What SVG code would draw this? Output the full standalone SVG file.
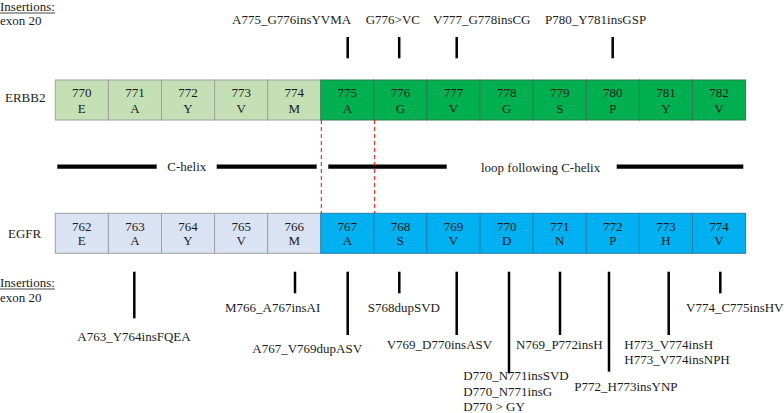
<svg xmlns="http://www.w3.org/2000/svg" width="784" height="413" viewBox="0 0 784 413">
<style>
text{font-family:"Liberation Serif","Times New Roman",serif;font-size:13px;fill:#1a1a1a}
.c{text-anchor:middle}
.lg{fill:#c5e0b4;stroke:#a0a0a0;stroke-width:1}
.dg{fill:#00b050;stroke:#2f7f4a;stroke-width:1}
.lb{fill:#dae3f3;stroke:#a0a0a0;stroke-width:1}
.db{fill:#00b0f0;stroke:#2a7fa8;stroke-width:1}
.tick{stroke:#000;stroke-width:2.5}
.helix{stroke:#000;stroke-width:4.3}
.red{stroke:#ff0000;stroke-width:1;stroke-dasharray:4,3}
</style>
<rect width="784" height="413" fill="#fff"/>

<g id="headers">
<text x="0" y="11">Insertions:</text>
<line x1="0" y1="13" x2="55" y2="13" stroke="#1a1a1a" stroke-width="0.8"/>
<text x="0" y="25">exon 20</text>
<text x="5" y="102">ERBB2</text>
<text x="8" y="238">EGFR</text>
<text x="0" y="286.5">Insertions:</text>
<line x1="0" y1="289" x2="55" y2="289" stroke="#1a1a1a" stroke-width="0.8"/>
<text x="0" y="302">exon 20</text>
</g>

<g id="erbb2">
<g id="e770"><rect class="lg" x="55.3" y="80" width="53.1" height="40"/><text class="c" x="81.85" y="97">770</text><text class="c" x="81.85" y="112.5">E</text></g>
<g id="e771"><rect class="lg" x="108.4" y="80" width="53.1" height="40"/><text class="c" x="134.95" y="97">771</text><text class="c" x="134.95" y="112.5">A</text></g>
<g id="e772"><rect class="lg" x="161.5" y="80" width="53.1" height="40"/><text class="c" x="188.05" y="97">772</text><text class="c" x="188.05" y="112.5">Y</text></g>
<g id="e773"><rect class="lg" x="214.6" y="80" width="53.1" height="40"/><text class="c" x="241.15" y="97">773</text><text class="c" x="241.15" y="112.5">V</text></g>
<g id="e774"><rect class="lg" x="267.7" y="80" width="53.1" height="40"/><text class="c" x="294.25" y="97">774</text><text class="c" x="294.25" y="112.5">M</text></g>
<g id="e775"><rect class="dg" x="320.8" y="80" width="53.1" height="40"/><text class="c" x="347.35" y="97">775</text><text class="c" x="347.35" y="112.5">A</text></g>
<g id="e776"><rect class="dg" x="373.9" y="80" width="53.1" height="40"/><text class="c" x="400.45" y="97">776</text><text class="c" x="400.45" y="112.5">G</text></g>
<g id="e777"><rect class="dg" x="427" y="80" width="53.1" height="40"/><text class="c" x="453.55" y="97">777</text><text class="c" x="453.55" y="112.5">V</text></g>
<g id="e778"><rect class="dg" x="480.1" y="80" width="53.1" height="40"/><text class="c" x="506.65" y="97">778</text><text class="c" x="506.65" y="112.5">G</text></g>
<g id="e779"><rect class="dg" x="533.2" y="80" width="53.1" height="40"/><text class="c" x="559.75" y="97">779</text><text class="c" x="559.75" y="112.5">S</text></g>
<g id="e780"><rect class="dg" x="586.3" y="80" width="53.1" height="40"/><text class="c" x="612.85" y="97">780</text><text class="c" x="612.85" y="112.5">P</text></g>
<g id="e781"><rect class="dg" x="639.4" y="80" width="53.1" height="40"/><text class="c" x="665.95" y="97">781</text><text class="c" x="665.95" y="112.5">Y</text></g>
<g id="e782"><rect class="dg" x="692.5" y="80" width="53.1" height="40"/><text class="c" x="719.05" y="97">782</text><text class="c" x="719.05" y="112.5">V</text></g>
</g>

<g id="egfr">
<g id="g762"><rect class="lb" x="55.3" y="213.3" width="53.1" height="40"/><text class="c" x="81.85" y="230.5">762</text><text class="c" x="81.85" y="245">E</text></g>
<g id="g763"><rect class="lb" x="108.4" y="213.3" width="53.1" height="40"/><text class="c" x="134.95" y="230.5">763</text><text class="c" x="134.95" y="245">A</text></g>
<g id="g764"><rect class="lb" x="161.5" y="213.3" width="53.1" height="40"/><text class="c" x="188.05" y="230.5">764</text><text class="c" x="188.05" y="245">Y</text></g>
<g id="g765"><rect class="lb" x="214.6" y="213.3" width="53.1" height="40"/><text class="c" x="241.15" y="230.5">765</text><text class="c" x="241.15" y="245">V</text></g>
<g id="g766"><rect class="lb" x="267.7" y="213.3" width="53.1" height="40"/><text class="c" x="294.25" y="230.5">766</text><text class="c" x="294.25" y="245">M</text></g>
<g id="g767"><rect class="db" x="320.8" y="213.3" width="53.1" height="40"/><text class="c" x="347.35" y="230.5">767</text><text class="c" x="347.35" y="245">A</text></g>
<g id="g768"><rect class="db" x="373.9" y="213.3" width="53.1" height="40"/><text class="c" x="400.45" y="230.5">768</text><text class="c" x="400.45" y="245">S</text></g>
<g id="g769"><rect class="db" x="427" y="213.3" width="53.1" height="40"/><text class="c" x="453.55" y="230.5">769</text><text class="c" x="453.55" y="245">V</text></g>
<g id="g770"><rect class="db" x="480.1" y="213.3" width="53.1" height="40"/><text class="c" x="506.65" y="230.5">770</text><text class="c" x="506.65" y="245">D</text></g>
<g id="g771"><rect class="db" x="533.2" y="213.3" width="53.1" height="40"/><text class="c" x="559.75" y="230.5">771</text><text class="c" x="559.75" y="245">N</text></g>
<g id="g772"><rect class="db" x="586.3" y="213.3" width="53.1" height="40"/><text class="c" x="612.85" y="230.5">772</text><text class="c" x="612.85" y="245">P</text></g>
<g id="g773"><rect class="db" x="639.4" y="213.3" width="53.1" height="40"/><text class="c" x="665.95" y="230.5">773</text><text class="c" x="665.95" y="245">H</text></g>
<g id="g774"><rect class="db" x="692.5" y="213.3" width="53.1" height="40"/><text class="c" x="719.05" y="230.5">774</text><text class="c" x="719.05" y="245">V</text></g>
</g>

<g id="helix">
<line class="helix" x1="57.3" y1="166.7" x2="156.7" y2="166.7"/>
<text x="167.3" y="171">C-helix</text>
<line class="helix" x1="216.7" y1="166.7" x2="316.7" y2="166.7"/>
<line class="helix" x1="328.3" y1="166.7" x2="446.7" y2="166.7"/>
<text x="481" y="171.5">loop following C-helix</text>
<line class="helix" x1="616.7" y1="166.7" x2="743.3" y2="166.7"/>
</g>

<g id="connectors">
<line class="red" x1="321.3" y1="120" x2="321.3" y2="213.3"/>
<line class="red" x1="374.7" y1="120" x2="374.7" y2="213.3"/>
<line class="tick" x1="347.7" y1="37" x2="347.7" y2="58.3"/>
<line class="tick" x1="399.2" y1="37" x2="399.2" y2="58.3"/>
<line class="tick" x1="456.7" y1="37" x2="456.7" y2="58.3"/>
<line class="tick" x1="612.7" y1="37" x2="612.7" y2="58.3"/>
<line class="tick" x1="134.3" y1="271.7" x2="134.3" y2="318.3"/>
<line class="tick" x1="295" y1="271.7" x2="295" y2="293.3"/>
<line class="tick" x1="347.7" y1="271.7" x2="347.7" y2="335"/>
<line class="tick" x1="399.3" y1="271.7" x2="399.3" y2="293.3"/>
<line class="tick" x1="456.7" y1="271.7" x2="456.7" y2="335"/>
<line class="tick" x1="509" y1="271.7" x2="509" y2="373.3"/>
<line class="tick" x1="560" y1="271.7" x2="560" y2="335"/>
<line class="tick" x1="609" y1="271.7" x2="609" y2="371.7"/>
<line class="tick" x1="668.7" y1="271.7" x2="668.7" y2="335"/>
<line class="tick" x1="720.3" y1="271.7" x2="720.3" y2="293.3"/>
</g>

<g id="labels">
<text x="232" y="24">A775_G776insYVMA</text>
<text x="365.7" y="24">G776&gt;VC</text>
<text x="433" y="24">V777_G778insCG</text>
<text x="545" y="24">P780_Y781insGSP</text>
<text x="77.3" y="340.5">A763_Y764insFQEA</text>
<text x="225" y="312.3">M766_A767insAI</text>
<text x="252.3" y="352.5">A767_V769dupASV</text>
<text x="367.7" y="312.3">S768dupSVD</text>
<text x="386.7" y="348.5">V769_D770insASV</text>
<text x="463.3" y="380">D770_N771insSVD</text>
<text x="463.3" y="395.5">D770_N771insG</text>
<text x="463.3" y="410.5">D770 &gt; GY</text>
<text x="516" y="348.5">N769_P772insH</text>
<text x="574.3" y="390.5">P772_H773insYNP</text>
<text x="624.3" y="348.5">H773_V774insH</text>
<text x="624.3" y="364">H773_V774insNPH</text>
<text x="686" y="312">V774_C775insHV</text>
</g>
</svg>
